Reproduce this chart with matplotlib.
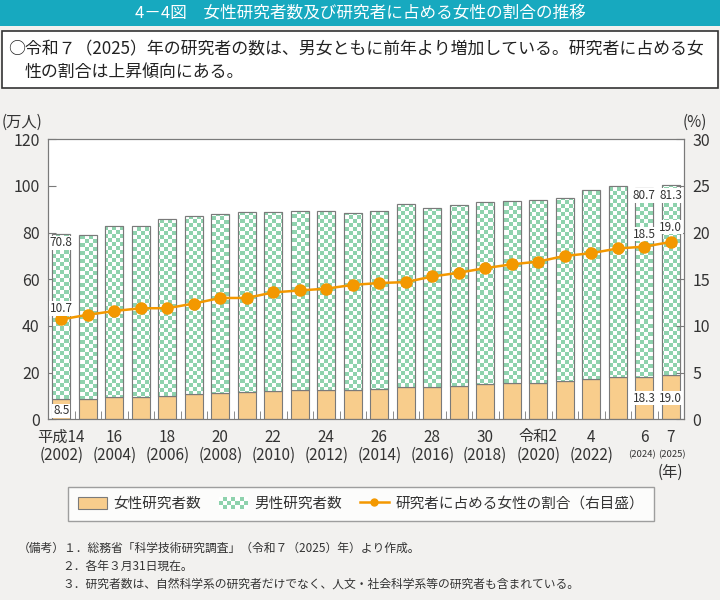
import numpy as np
import matplotlib
matplotlib.use('Agg')
import matplotlib.pyplot as plt
from matplotlib.patches import Rectangle, Patch
from matplotlib.lines import Line2D
from matplotlib.legend_handler import HandlerBase
from matplotlib.colors import ListedColormap
import matplotlib.transforms as mtransforms

plt.rcParams['font.family'] = ['Noto Sans CJK JP', 'DejaVu Sans']

# data
years = list(range(2002, 2026))
era_labels = ['平成14', '16', '18', '20', '22', '24', '26', '28', '30', '令和2', '4', '6', '7']
era_years = [2002, 2004, 2006, 2008, 2010, 2012, 2014, 2016, 2018, 2020, 2022, 2024, 2025]
women = [8.5, 8.9, 9.4, 9.7, 10.1, 10.7, 11.4, 11.6, 12.0, 12.4, 12.4, 12.7,
         13.1, 13.7, 13.9, 14.3, 15.0, 15.4, 15.7, 16.6, 17.4, 18.1, 18.3, 19.0]
men = [70.8, 70.0, 73.3, 73.0, 75.8, 76.6, 76.7, 77.1, 76.7, 76.9, 76.7, 75.9,
       76.0, 78.7, 76.7, 77.4, 78.0, 78.2, 78.4, 78.4, 80.9, 82.0, 80.7, 81.3]
ratio = [10.7, 11.2, 11.6, 11.9, 11.9, 12.4, 13.0, 13.0, 13.6, 13.8, 14.0, 14.4,
         14.6, 14.7, 15.3, 15.7, 16.2, 16.6, 16.9, 17.5, 17.8, 18.3, 18.5, 19.0]

c_women = '#f8cd8c'
c_green = '#8ed2ad'
c_line = '#f39800'
c_edge = '#7a7a7a'
c_bg = '#f2f1ef'
c_teal = '#17a9bf'
c_txt = '#333333'

fig = plt.figure(figsize=(7.2, 6), dpi=100, facecolor=c_bg)

# header band and summary box
fig.patches.append(Rectangle((0, 1 - 26 / 600), 1, 26 / 600, transform=fig.transFigure,
                             facecolor=c_teal, edgecolor='none', zorder=0))
fig.text(0.5, 1 - 13 / 600, '4－4図　女性研究者数及び研究者に占める女性の割合の推移',
         color='white', fontsize=12, ha='center', va='center')
fig.patches.append(Rectangle((2 / 720, 1 - 88 / 600), 716 / 720, 57 / 600, transform=fig.transFigure,
                             facecolor='white', edgecolor='#333333', linewidth=1.2, zorder=0))
fig.text(8 / 720, 1 - 49 / 600,
         '○令和７（2025）年の研究者の数は、男女ともに前年より増加している。研究者に占める女',
         fontsize=12.2, ha='left', va='center', color='#222222')
fig.text(25 / 720, 1 - 72 / 600, '性の割合は上昇傾向にある。',
         fontsize=12.2, ha='left', va='center', color='#222222')

ax = fig.add_axes([48 / 720, 1 - 419.3 / 600, 636 / 720, 280 / 600])
ax.set_facecolor('white')
x = np.arange(len(years))
w = 0.69

ax.bar(x, women, w, color=c_women, edgecolor=c_edge, linewidth=0.8, zorder=2)
mbars = ax.bar(x, men, w, bottom=women, color='white', edgecolor=c_edge, linewidth=0.8, zorder=2)

# checker pattern for men bars
nx, ny = 159, 70
cy, cx = np.indices((ny, nx))
checker = ((cx + cy) % 2).astype(float)
cmap = ListedColormap(['white', c_green])
for b in mbars:
    im = ax.imshow(checker, extent=(-0.5, 23.5, 0, 120), aspect='auto', cmap=cmap,
                   interpolation='nearest', origin='lower', zorder=2.1)
    im.set_clip_path(b)
    ax.add_patch(Rectangle(b.get_xy(), b.get_width(), b.get_height(), facecolor='none',
                           edgecolor=c_edge, linewidth=0.8, zorder=2.2))

ax.set_xlim(-0.5, 23.5)
ax.set_ylim(0, 120)
ax.set_yticks(range(0, 121, 20))
ax.set_xticks([])
ax.set_xticks(x[:-1] + 0.5, minor=True)
ax.tick_params(axis='x', which='minor', direction='in', length=6, color=c_edge, labelbottom=False)
ax.tick_params(axis='y', direction='in', length=6, color=c_edge, labelsize=11.5, pad=6, labelcolor=c_txt)
for s in ax.spines.values():
    s.set_color(c_edge)

ax2 = ax.twinx()
ax2.plot(x, ratio, '-o', color=c_line, linewidth=1.8, markersize=8, zorder=5)
ax2.set_ylim(0, 30)
ax2.set_yticks(range(0, 31, 5))
ax2.tick_params(axis='y', direction='in', length=6, color=c_edge, labelsize=11.5, pad=6, labelcolor=c_txt)
for s in ax2.spines.values():
    s.set_color(c_edge)

# data labels
lab = dict(fontsize=8.5, ha='center', va='center', color=c_txt,
           bbox=dict(facecolor='white', edgecolor='none', pad=0.6))
ax.text(0, 75.6, f'{men[0]}', **lab, zorder=6)
ax.text(0, 3.6, f'{women[0]}', **lab, zorder=6)
ax2.text(0, 11.9, f'{ratio[0]}', **lab, zorder=6)
ax.text(22, 95.8, f'{men[22]}', **lab, zorder=6)
ax.text(23, 95.8, f'{men[23]}', **lab, zorder=6)
ax.text(22, 9.1, f'{women[22]}', **lab, zorder=6)
ax.text(23, 9.1, f'{women[23]:.1f}', **lab, zorder=6)
ax2.text(22, 19.85, f'{ratio[22]}', **lab, zorder=6)
ax2.text(23, 20.6, f'{ratio[23]:.1f}', **lab, zorder=6)

# x labels: era year on top, western year below
trans = mtransforms.blended_transform_factory(ax.transData, fig.transFigure)
for lbl, yr in zip(era_labels, era_years):
    i = years.index(yr)
    ax.text(i, 1 - 437 / 600, lbl, transform=trans, ha='center', va='center', fontsize=11, color=c_txt)
    small = yr >= 2024
    ax.text(i + (-0.1 if yr == 2024 else 0.06 if yr == 2025 else 0), 1 - 455 / 600, f'({yr})',
            transform=trans, ha='center', va='center', fontsize=6.8 if small else 11, color=c_txt)
ax.text(23, 1 - 472 / 600, '(年)', transform=trans, ha='center', va='center', fontsize=11, color=c_txt)
fig.text(22 / 720, 1 - 122 / 600, '(万人)', ha='center', va='center', fontsize=11, color=c_txt)
fig.text(695 / 720, 1 - 122 / 600, '(%)', ha='center', va='center', fontsize=11, color=c_txt)


class CheckerHandler(HandlerBase):
    def create_artists(self, legend, orig_handle, xdescent, ydescent, width, height, fontsize, trans):
        arts = [Rectangle((-xdescent, -ydescent), width, height, facecolor='white',
                          edgecolor='none', transform=trans)]
        n, m = 7, 3
        cw, ch = width / n, height / m
        for i in range(n):
            for j in range(m):
                if (i + j) % 2 == 1:
                    arts.append(Rectangle((-xdescent + i * cw, -ydescent + j * ch), cw, ch,
                                          facecolor=c_green, edgecolor='none', transform=trans))
        return arts


h1 = Patch(facecolor=c_women, edgecolor=c_edge, linewidth=0.8)
h2 = Patch(facecolor='white')
h3 = Line2D([], [], color=c_line, marker='o', markersize=5, linewidth=1.8)
leg = fig.legend([h1, h2, h3], ['女性研究者数', '男性研究者数', '研究者に占める女性の割合（右目盛）'],
                 handler_map={h2: CheckerHandler()}, loc='center', bbox_to_anchor=(361 / 720, 1 - 504 / 600),
                 ncol=3, fontsize=10.5, frameon=True, fancybox=False, edgecolor='#888888',
                 handlelength=2.0, handleheight=0.9, columnspacing=1.2, handletextpad=0.45,
                 borderpad=0.7, borderaxespad=0)
leg.get_frame().set_linewidth(1.0)
for t in leg.get_texts():
    t.set_color(c_txt)

notes = [(18, 548, '（備考）１．総務省「科学技術研究調査」（令和７（2025）年）より作成。'),
         (62, 566, '２．各年３月31日現在。'),
         (62, 584, '３．研究者数は、自然科学系の研究者だけでなく、人文・社会科学系等の研究者も含まれている。')]
for nxp, nyp, t in notes:
    fig.text(nxp / 720, 1 - nyp / 600, t, fontsize=8.5, ha='left', va='center', color=c_txt)

fig.savefig('out.png', dpi=100, facecolor=c_bg)
